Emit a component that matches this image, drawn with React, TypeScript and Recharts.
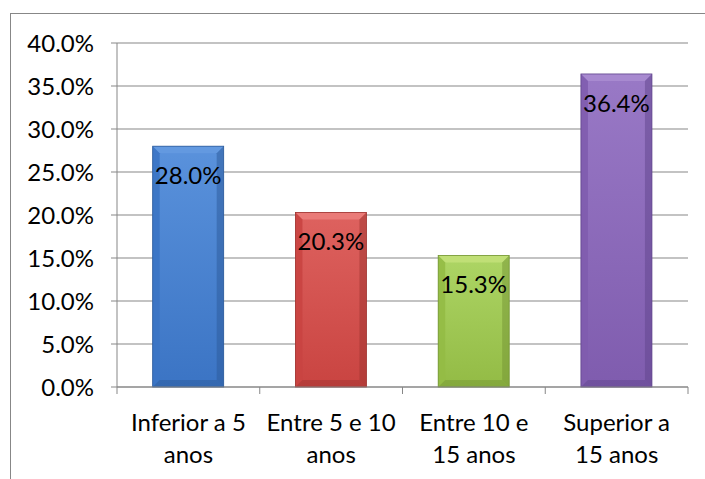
import React from "react";
import { BarChart, Bar, XAxis, YAxis, CartesianGrid, LabelList } from "recharts";

const categories = ["Inferior a 5 anos", "Entre 5 e 10 anos", "Entre 10 e 15 anos", "Superior a 15 anos"];
const tickLines = [
  ["Inferior a 5", "anos"],
  ["Entre 5 e 10", "anos"],
  ["Entre 10 e", "15 anos"],
  ["Superior a", "15 anos"],
];
const values = [28.0, 20.3, 15.3, 36.4];
const yTicks = [0, 5, 10, 15, 20, 25, 30, 35, 40];

const palette = [
  { base: "#3b74c4", light: "#5a92dc", top: "#6399e0", dark: "#2c5a9a" },
  { base: "#c94441", light: "#de625f", top: "#ea7b78", dark: "#9e3330" },
  { base: "#93bb45", light: "#add565", top: "#c0df76", dark: "#739433" },
  { base: "#7f5cae", light: "#9979c6", top: "#a88ad0", dark: "#60448c" },
];

const data = categories.map((c, i) => ({ name: c, value: values[i], idx: i }));

const FONT = "Lato, 'Open Sans', sans-serif";
const GRID = "#878787";

const BevelBar = (props: any) => {
  const { x, y, width, height, payload } = props;
  const c = palette[payload.idx];
  const b = 7;
  return (
    <g>
      <rect x={x} y={y} width={width} height={height} fill={`url(#g${payload.idx})`} />
      <polygon points={`${x},${y} ${x + width},${y} ${x + width - b},${y + b} ${x + b},${y + b}`} fill={c.top} />
      <polygon points={`${x},${y} ${x + b},${y + b} ${x + b},${y + height - b} ${x},${y + height}`} fill={c.base} opacity={0.9} />
      <polygon points={`${x + width},${y} ${x + width - b},${y + b} ${x + width - b},${y + height - b} ${x + width},${y + height}`} fill={c.dark} opacity={0.5} />
      <polygon points={`${x},${y + height} ${x + b},${y + height - b} ${x + width - b},${y + height - b} ${x + width},${y + height}`} fill={c.dark} opacity={0.45} />
      <rect x={x} y={y} width={width} height={height} fill="none" stroke={c.dark} strokeWidth={0.8} />
    </g>
  );
};

const XTick = (props: any) => {
  const { x, y, payload, index } = props;
  const half = payload && payload.offset ? payload.offset : 71.4;
  const lines = tickLines[index] || [String(payload.value)];
  return (
    <g>
      <line x1={x - half} x2={x - half} y1={y} y2={y + 7} stroke={GRID} />
      {index === categories.length - 1 && (
        <line x1={x + half} x2={x + half} y1={y} y2={y + 7} stroke={GRID} />
      )}
      {lines.map((l: string, i: number) => (
        <text key={i} x={x} y={y + 44 + i * 32} textAnchor="middle" fontFamily={FONT} fontSize={24} fill="#000">
          {l}
        </text>
      ))}
    </g>
  );
};

export default function App() {
  return (
    <div style={{ position: "absolute", left: 0, top: 0, width: 705, height: 479, background: "#fff", overflow: "hidden" }}>
      <div style={{ position: "absolute", left: 10, top: 13, width: 700, height: 470, borderTop: `1px solid ${GRID}`, borderLeft: `1px solid ${GRID}` }} />
      <div style={{ position: "absolute", left: 0, top: 0 }}>
        <BarChart width={705} height={479} data={data} margin={{ top: 43, right: 17, bottom: 0, left: 0 }} barCategoryGap="25%">
          <defs>
            {palette.map((c, i) => (
              <linearGradient key={i} id={`g${i}`} x1="0" y1="0" x2="0" y2="1">
                <stop offset="0%" stopColor={c.light} />
                <stop offset="100%" stopColor={c.base} />
              </linearGradient>
            ))}
          </defs>
          <CartesianGrid vertical={false} stroke={GRID} strokeWidth={1} />
          <XAxis
            dataKey="name"
            interval={0}
            tickLine={false}
            tickSize={0}
            tickMargin={0}
            axisLine={{ stroke: GRID }}
            tick={<XTick />}
            height={92}
          />
          <YAxis
            width={117}
            domain={[0, 40]}
            ticks={yTicks}
            interval={0}
            tickFormatter={(v: number) => `${v.toFixed(1)}%`}
            axisLine={{ stroke: GRID }}
            tickLine={{ stroke: GRID }}
            tickSize={6}
            tickMargin={17}
            tick={{ fontFamily: FONT, fontSize: 24, fill: "#000" }}
          />
          <Bar dataKey="value" isAnimationActive={false} shape={<BevelBar />}>
            <LabelList
              dataKey="value"
              position="insideTop"
              offset={21}
              formatter={(v: number) => `${v.toFixed(1)}%`}
              style={{ fontFamily: FONT, fontSize: 24, fill: "#000" }}
            />
          </Bar>
        </BarChart>
      </div>
    </div>
  );
}
